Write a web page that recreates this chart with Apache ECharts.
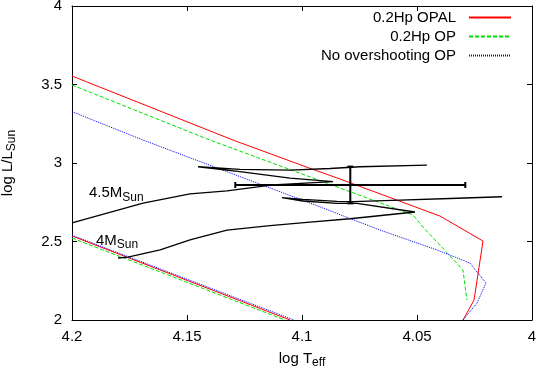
<!DOCTYPE html>
<html>
<head>
<meta charset="UTF-8">
<title>HR diagram</title>
<style>
  html, body { margin: 0; padding: 0; background: #fff; }
  #chart { width: 538px; height: 369px; }
</style>
</head>
<body>
<div id="chart"></div>
<script src="https://cdn.jsdelivr.net/npm/echarts@6/dist/echarts.min.js"></script>
<script>
// points: [log Teff, log L/Lsun]
var seriesNames = ['0.2Hp OPAL', '0.2Hp OP', 'No overshooting OP'];

// upper boundaries
var opalUpper = [[4.2, 3.554], [4.13, 3.146], [4.0965, 2.966], [4.0835, 2.898], [4.04, 2.662],
                 [4.0213, 2.503], [4.0252, 2.127], [4.03, 2.0]];
var opUpper = [[4.2, 3.497], [4.14, 3.146], [4.0965, 2.911], [4.0517, 2.669], [4.0474, 2.592],
               [4.0348, 2.395], [4.03, 2.318], [4.0283, 2.127]];
var noOvUpper = [[4.2, 3.327], [4.1691, 3.146], [4.0965, 2.745], [4.0661, 2.573], [4.0413, 2.446],
                 [4.027, 2.363], [4.0239, 2.306], [4.02, 2.236], [4.0239, 2.108], [4.03, 2.0]];

// lower (ZAMS) lines
var opalLower = [[4.2, 2.535], [4.1052, 2.0]];
var opLower = [[4.2, 2.522], [4.1074, 2.0]];
var noOvLower = [[4.2, 2.54], [4.1035, 2.0]];

// evolutionary tracks
var track45 = [[4.2, 2.618], [4.1691, 2.745], [4.1487, 2.803], [4.1326, 2.822], [4.1126, 2.86],
               [4.0965, 2.873], [4.0865, 2.881], [4.1052, 2.904], [4.127, 2.945], [4.1452, 2.976],
               [4.127, 2.959], [4.1052, 2.955], [4.0878, 2.965], [4.0748, 2.976], [4.0457, 2.987]];
var track40 = [[4.18, 2.395], [4.1757, 2.401], [4.1617, 2.446], [4.1487, 2.51], [4.1326, 2.573],
               [4.1139, 2.601], [4.0965, 2.624], [4.0791, 2.645], [4.0509, 2.688], [4.0761, 2.743],
               [4.0848, 2.743], [4.0996, 2.758], [4.1087, 2.779], [4.0996, 2.768], [4.0848, 2.755],
               [4.0778, 2.754], [4.0574, 2.764], [4.0357, 2.774], [4.013, 2.785]];

// observed star with error bars: [x, y, xerr, yerr]
var star = [4.079, 2.86, 0.05, 0.117];

// track labels: [x, y, mass]
var trackLabels = [[4.1926, 2.809, '4.5'], [4.1896, 2.506, '4']];

var FONT = 'Liberation Sans, Arial, sans-serif';
var colors = ['#ff0000', '#00e000', '#0000ff'];
var lineTypes = ['solid', [4, 2], [1, 1]];

var chart = echarts.init(document.getElementById('chart'));

function curve(name, data, idx) {
    return {
        name: name,
        type: 'line',
        data: data,
        symbol: 'none',
        lineStyle: { color: colors[idx], width: 1, type: lineTypes[idx] },
        itemStyle: { color: colors[idx] },
        z: 2
    };
}
function track(data) {
    return {
        type: 'line',
        data: data,
        symbol: 'none',
        lineStyle: { color: '#000', width: 1.3 },
        z: 3
    };
}

var subRich = {
    a: { fontSize: 15, fontFamily: FONT, color: '#000' },
    s: { fontSize: 12, fontFamily: FONT, color: '#000', padding: [9, 0, 0, 0] }
};

var axisCommon = {
    axisLine: { show: true, lineStyle: { color: '#000', width: 1 } },
    axisTick: { inside: true, length: 5, lineStyle: { color: '#000' } },
    splitLine: { show: false }
};

var option = {
    animation: false,
    backgroundColor: '#fff',
    grid: { left: 72, right: 6, top: 6, bottom: 49, outerBoundsMode: 'none', containLabel: false },
    legend: {
        data: seriesNames,
        orient: 'vertical',
        right: 26,
        top: 10,
        align: 'right',
        padding: 0,
        itemWidth: 42,
        itemHeight: 10,
        itemGap: 4,
        itemStyle: { opacity: 0 },
        textStyle: { fontSize: 15, fontFamily: FONT, color: '#000', padding: [0, 8, 0, 0] }
    },
    xAxis: [
        Object.assign({
            type: 'value', min: 4, max: 4.2, interval: 0.05, inverse: true,
            name: '{a|log T}{s|eff}', nameLocation: 'middle', nameGap: 28,
            nameTextStyle: { rich: subRich },
            axisLabel: {
                fontSize: 15, fontFamily: FONT, color: '#000', margin: 9,
                formatter: function (v) { return String(+v.toFixed(2)); }
            }
        }, axisCommon),
        Object.assign({
            type: 'value', min: 4, max: 4.2, interval: 0.05, inverse: true,
            position: 'top', axisLabel: { show: false }
        }, axisCommon)
    ],
    yAxis: [
        Object.assign({
            type: 'value', min: 2, max: 4, interval: 0.5,
            name: '{a|log L/L}{s|Sun}', nameLocation: 'middle', nameGap: 54,
            nameTextStyle: { rich: subRich },
            axisLabel: {
                fontSize: 15, fontFamily: FONT, color: '#000', margin: 10,
                formatter: function (v) { return String(+v.toFixed(2)); }
            }
        }, axisCommon),
        Object.assign({
            type: 'value', min: 2, max: 4, interval: 0.5,
            position: 'right', axisLabel: { show: false }
        }, axisCommon)
    ],
    series: [
        curve(seriesNames[0], opalUpper, 0),
        curve(seriesNames[0], opalLower, 0),
        curve(seriesNames[1], opUpper, 1),
        curve(seriesNames[1], opLower, 1),
        curve(seriesNames[2], noOvUpper, 2),
        curve(seriesNames[2], noOvLower, 2),
        track(track45),
        track(track40),
        {
            type: 'custom',
            data: [star],
            z: 4,
            renderItem: function (params, api) {
                var x = api.value(0), y = api.value(1), dx = api.value(2), dy = api.value(3);
                var l = api.coord([x + dx, y]);
                var r = api.coord([x - dx, y]);
                var t = api.coord([x, y + dy]);
                var b = api.coord([x, y - dy]);
                var cap = 3;
                var st = { stroke: '#000', lineWidth: 2 };
                function seg(x1, y1, x2, y2) {
                    return { type: 'line', shape: { x1: x1, y1: y1, x2: x2, y2: y2 }, style: st };
                }
                return {
                    type: 'group',
                    children: [
                        seg(l[0], l[1], r[0], r[1]),
                        seg(l[0], l[1] - cap, l[0], l[1] + cap),
                        seg(r[0], r[1] - cap, r[0], r[1] + cap),
                        seg(t[0], t[1], b[0], b[1]),
                        seg(t[0] - cap, t[1], t[0] + cap, t[1]),
                        seg(b[0] - cap, b[1], b[0] + cap, b[1])
                    ]
                };
            }
        },
        {
            type: 'scatter',
            data: trackLabels,
            symbolSize: 0,
            silent: true,
            itemStyle: { opacity: 1 },
            label: {
                show: true,
                position: 'right',
                distance: 0,
                color: '#000',
                fontSize: 15,
                fontFamily: FONT,
                formatter: function (p) { return '{a|' + p.value[2] + 'M}{s|Sun}'; },
                rich: subRich
            }
        }
    ]
};

chart.setOption(option);
</script>
</body>
</html>
